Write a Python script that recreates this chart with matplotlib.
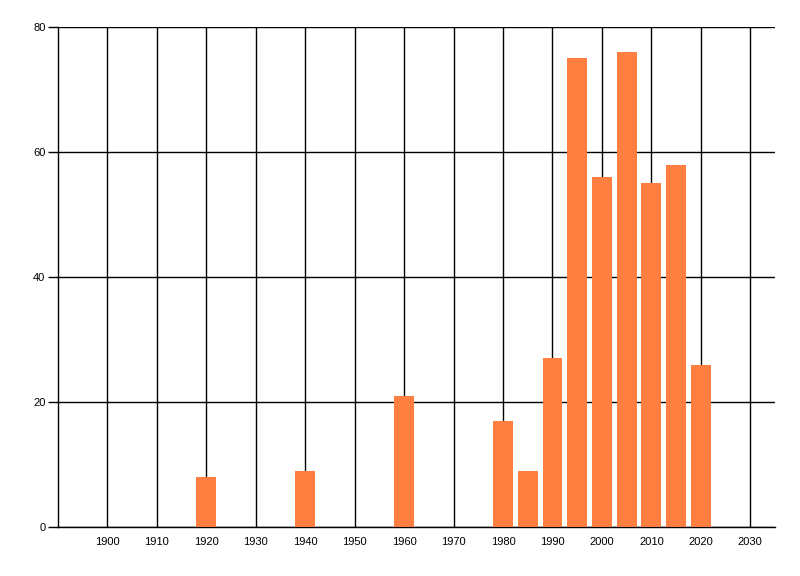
import matplotlib
matplotlib.use("Agg")
import matplotlib.pyplot as plt

years = [1920, 1940, 1960, 1980, 1985, 1990, 1995, 2000, 2005, 2010, 2015, 2020]
counts = [8, 9, 21, 17, 9, 27, 75, 56, 76, 55, 58, 26]
xticks = list(range(1900, 2031, 10))
yticks = [0, 20, 40, 60, 80]

plt.rcParams['font.family'] = ['Liberation Sans', 'DejaVu Sans']
fig = plt.figure(figsize=(8, 5.76), dpi=100)
ax = fig.add_axes([0.0725, 0.085, 0.89625, 0.868])

ax.bar(years, counts, width=4, color='#FF7F41', zorder=3)
ax.set_xlim(1890, 2035)
ax.set_ylim(0, 80)
ax.set_xticks(xticks)
ax.set_yticks(yticks)
ax.grid(True, color='black', linewidth=1.0, zorder=1)
ax.set_axisbelow(True)
for s in ['top', 'right']:
    ax.spines[s].set_visible(False)
for s in ['left', 'bottom']:
    ax.spines[s].set_color('black')
    ax.spines[s].set_linewidth(1.0)
ax.tick_params(axis='x', length=0, pad=7, labelsize=8)
ax.tick_params(axis='y', length=7, width=1, pad=2, labelsize=8)

fig.savefig('out.png', dpi=100)
